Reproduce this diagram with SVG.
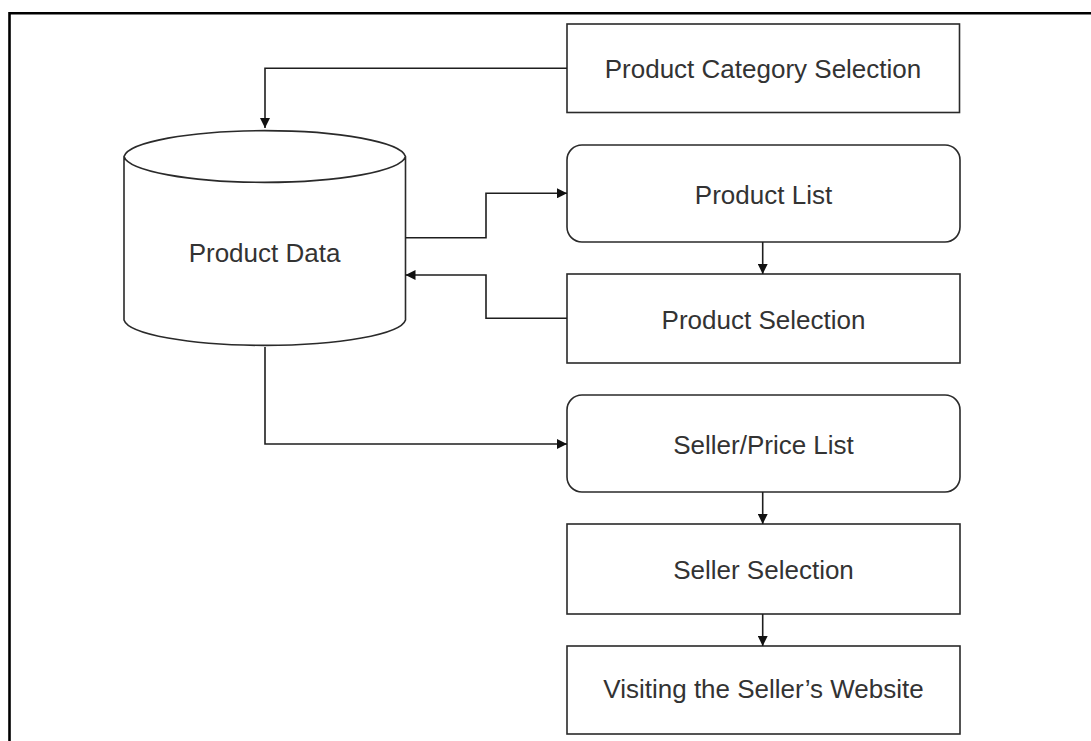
<svg xmlns="http://www.w3.org/2000/svg" width="1091" height="741" viewBox="0 0 1091 741">
<defs>
<style>
.box{fill:#fff;stroke:#2a2a2a;stroke-width:1.6}
.lbl{font-family:"Liberation Sans",Arial,sans-serif;font-size:26px;fill:#333;text-anchor:middle}
.con{fill:none;stroke:#1e1e1e;stroke-width:1.6}
</style>
<marker id="ah" viewBox="0 0 10 10" refX="10" refY="5" markerWidth="10" markerHeight="10" markerUnits="userSpaceOnUse" orient="auto">
<path d="M0,0 L10,5 L0,10 z" fill="#111"/>
</marker>
</defs>
<rect width="1091" height="741" fill="#fff"/>
<path d="M9.5,741 L9.5,13.2 L1091,13.2" fill="none" stroke="#000" stroke-width="2.6"/>
<g id="n-category">
<rect class="box" x="567" y="24" width="392.5" height="88.5"/>
<text class="lbl" x="763" y="78">Product Category Selection</text>
</g>
<g id="n-data">
<path class="box" d="M124,156.5 L124,320 A141,27 0 0 0 405.5,320 L405.5,156.5 A141,27.5 0 0 0 124,156.5 A141,27.5 0 0 0 405.5,156.5"/>
<text class="lbl" x="264.5" y="262">Product Data</text>
</g>
<g id="n-plist">
<rect class="box" x="567" y="145" width="393" height="97" rx="15" ry="15"/>
<text class="lbl" x="763.5" y="204">Product List</text>
</g>
<g id="n-psel">
<rect class="box" x="567" y="274" width="393" height="89"/>
<text class="lbl" x="763.5" y="329">Product Selection</text>
</g>
<g id="n-sellerlist">
<rect class="box" x="567" y="395" width="393" height="97" rx="15" ry="15"/>
<text class="lbl" x="763.5" y="454">Seller/Price List</text>
</g>
<g id="n-sellersel">
<rect class="box" x="567" y="524" width="393" height="90"/>
<text class="lbl" x="763.5" y="579">Seller Selection</text>
</g>
<g id="n-visit">
<rect class="box" x="567" y="646" width="393" height="88"/>
<text class="lbl" x="763.5" y="698">Visiting the Seller’s Website</text>
</g>
<g id="connectors">
<path class="con" d="M567,68.3 L265,68.3 L265,128" marker-end="url(#ah)"/>
<path class="con" d="M405.5,237.7 L486,237.7 L486,193.3 L567,193.3" marker-end="url(#ah)"/>
<path class="con" d="M567,318.3 L486,318.3 L486,275 L405.5,275" marker-end="url(#ah)"/>
<path class="con" d="M762.7,242 L762.7,274" marker-end="url(#ah)"/>
<path class="con" d="M265,347 L265,444 L567,444" marker-end="url(#ah)"/>
<path class="con" d="M762.7,492 L762.7,524" marker-end="url(#ah)"/>
<path class="con" d="M762.7,614 L762.7,646" marker-end="url(#ah)"/>
</g>
</svg>
